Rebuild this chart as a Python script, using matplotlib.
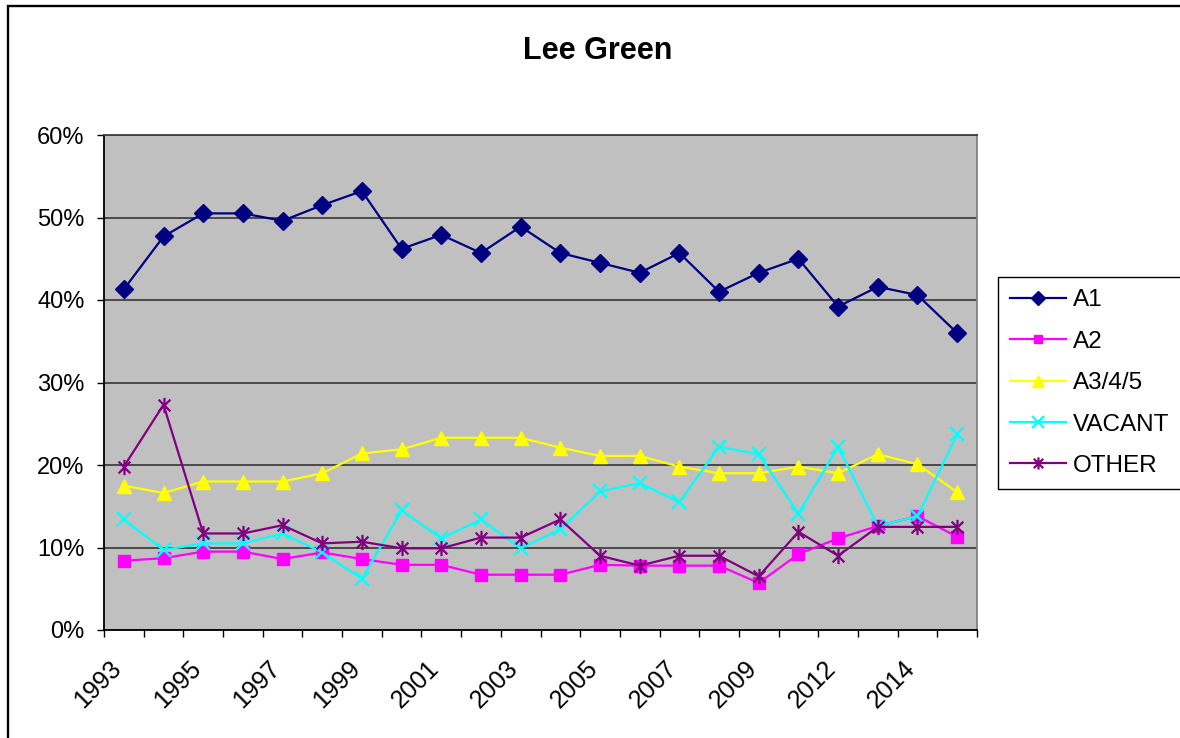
import numpy as np
import matplotlib
matplotlib.use("Agg")
import matplotlib.pyplot as plt
import matplotlib.transforms as mtransforms
from matplotlib.path import Path
from matplotlib.patches import Rectangle
from matplotlib.ticker import PercentFormatter

# data
years = ["1993", "1994", "1995", "1996", "1997", "1998", "1999", "2000",
         "2001", "2002", "2003", "2004", "2005", "2006", "2007", "2008",
         "2009", "2010", "2012", "2013", "2014", "2015"]
a1 = [0.413, 0.477, 0.505, 0.505, 0.496, 0.515, 0.532, 0.462, 0.479, 0.457, 0.489,
      0.457, 0.445, 0.433, 0.457, 0.410, 0.433, 0.450, 0.392, 0.416, 0.406, 0.360]
a2 = [0.084, 0.087, 0.095, 0.095, 0.086, 0.094, 0.086, 0.079, 0.079, 0.067, 0.067,
      0.067, 0.079, 0.078, 0.078, 0.078, 0.057, 0.092, 0.111, 0.126, 0.138, 0.113]
a345 = [0.175, 0.166, 0.180, 0.180, 0.180, 0.190, 0.214, 0.219, 0.233, 0.233, 0.233,
        0.221, 0.211, 0.211, 0.198, 0.190, 0.190, 0.198, 0.190, 0.213, 0.201, 0.167]
vacant = [0.134, 0.097, 0.105, 0.105, 0.117, 0.094, 0.062, 0.145, 0.111, 0.134, 0.099,
          0.122, 0.168, 0.178, 0.155, 0.222, 0.213, 0.141, 0.222, 0.126, 0.138, 0.237]
other = [0.198, 0.273, 0.117, 0.117, 0.127, 0.105, 0.107, 0.099, 0.099, 0.112, 0.112,
         0.134, 0.090, 0.078, 0.090, 0.090, 0.065, 0.119, 0.090, 0.125, 0.125, 0.125]

plt.rcParams["font.family"] = ["Liberation Sans", "DejaVu Sans"]

W, H = 1180, 738
fig = plt.figure(figsize=(W / 100, H / 100), dpi=100)

# chart area border (only left and top fall inside the picture)
fig.patches.append(Rectangle((8 / W, -0.1), 1.2, 1 - 6 / H + 0.1,
                             transform=fig.transFigure, fill=False,
                             ec="black", lw=1.7, clip_on=False))

ax = fig.add_axes([104 / W, 1 - 630 / H, (977 - 104) / W, (630 - 135) / H])
ax.set_facecolor("#C0C0C0")

# excel style asterisk marker
star = Path([(-1, -1), (1, 1), (-1, 1), (1, -1), (0, -1.3), (0, 1.3)],
            [Path.MOVETO, Path.LINETO, Path.MOVETO, Path.LINETO, Path.MOVETO, Path.LINETO])

x = np.arange(len(years))
series = [
    ("A1", a1, "#000080", "D", 9, {}),
    ("A2", a2, "#FF00FF", "s", 8, {}),
    ("A3/4/5", a345, "#FFFF00", "^", 10, {}),
    ("VACANT", vacant, "#00FFFF", "x", 10, {"mew": 1.6}),
    ("OTHER", other, "#800080", star, 11, {"mew": 1.6}),
]
for name, vals, col, mk, ms, kw in series:
    ax.plot(x, vals, color=col, lw=1.6, marker=mk, ms=ms, mfc=col, mec=col,
            label=name, clip_on=False, zorder=3, **kw)

ax.set_xlim(-0.5, len(years) - 0.5)
ax.set_ylim(0, 0.6)
ax.set_yticks(np.arange(0, 0.61, 0.1))
ax.yaxis.set_major_formatter(PercentFormatter(1.0, decimals=0))
ax.grid(axis="y", color="#404040", lw=1.3)
ax.set_axisbelow(True)

# ticks between categories, labels on every other category
ax.set_xticks(np.arange(-0.5, len(years), 1))
ax.set_xticklabels([])
ax.set_xticks(x[::2], minor=True)
ax.set_xticklabels(years[::2], minor=True, rotation=45, ha="right", va="center",
                   rotation_mode="anchor", fontsize=18)
ax.tick_params(axis="x", which="major", direction="out", length=5, width=1, color="black")
ax.tick_params(axis="x", which="minor", length=0, pad=25)
ax.tick_params(axis="y", direction="out", length=5, width=1, labelsize=17, pad=9)
shift = mtransforms.ScaledTranslation(-6 / 100, 0, fig.dpi_scale_trans)
for lab in ax.get_xticklabels(minor=True):
    lab.set_transform(lab.get_transform() + shift)

ax.spines["left"].set_color("black")
ax.spines["bottom"].set_color("black")
ax.spines["top"].set_color("#404040")
ax.spines["right"].set_color("#808080")
for s in ax.spines.values():
    s.set_linewidth(1.3)

fig.text(598 / W, 1 - 51 / H, "Lee Green", ha="center", va="center",
         fontsize=22, fontweight="bold")

leg = ax.legend(loc="upper left", bbox_to_anchor=(998 / W, 1 - 277 / H),
                bbox_transform=fig.transFigure, borderaxespad=0, fontsize=17.5,
                frameon=True, fancybox=False, edgecolor="black", framealpha=1,
                handlelength=2.3, handletextpad=0.3, labelspacing=0.8,
                borderpad=0.5, markerscale=0.8)
leg.get_frame().set_linewidth(1.0)

fig.savefig("out.png", dpi=100)
